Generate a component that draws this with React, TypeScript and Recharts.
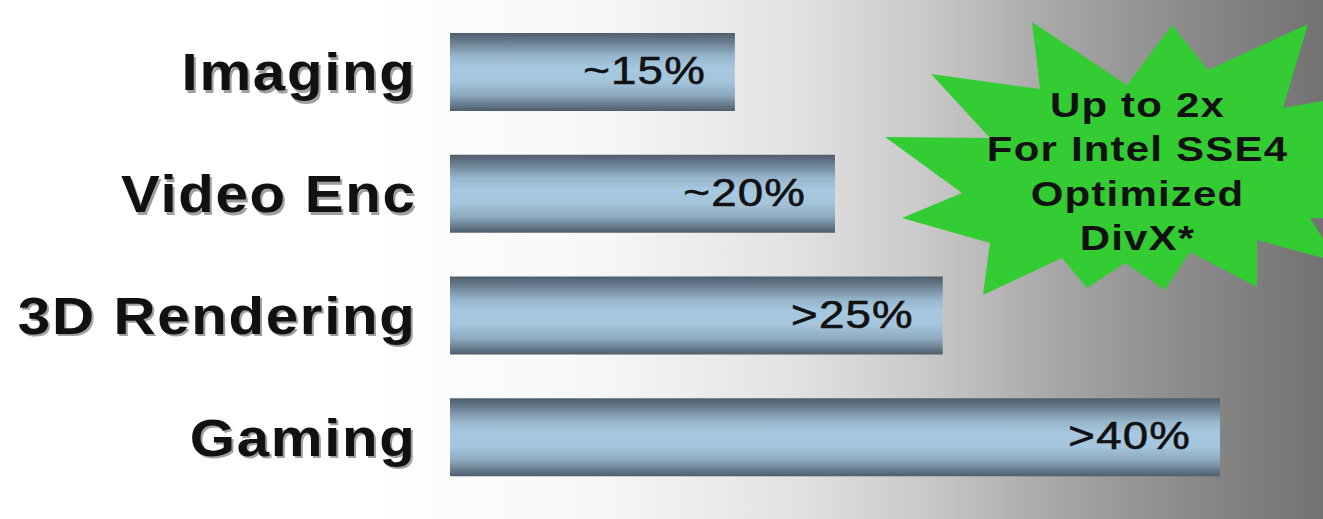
import React from 'react';
import { BarChart, Bar, XAxis, YAxis, LabelList } from 'recharts';

const categories = ['Imaging', 'Video Enc', '3D Rendering', 'Gaming'];
const speedups = [14.8, 20, 25.6, 40];
const valueLabels = ['~15%', '~20%', '>25%', '>40%'];
const calloutLines = ['Up to 2x', 'For Intel SSE4', 'Optimized', 'DivX*'];

const data = categories.map((c, i) => ({ name: c, value: speedups[i], label: valueLabels[i] }));

const FONT = '"Liberation Sans", Arial, Helvetica, sans-serif';

const CategoryTick = (props: any) => {
  const { x, y, payload } = props;
  const common = {
    textAnchor: 'end' as const,
    fontFamily: FONT,
    fontWeight: 'bold' as const,
    fontSize: 52,
    letterSpacing: 1.5,
  };
  return (
    <g>
      <text transform={`translate(${x + 3.5},${y + 21}) scale(1.12,1)`} {...common} fill="#a0a0a0">
        {payload.value}
      </text>
      <text transform={`translate(${x + 1.5},${y + 18.5}) scale(1.12,1)`} {...common} fill="#111111">
        {payload.value}
      </text>
    </g>
  );
};

const ValueLabel = (props: any) => {
  const { x, y, width, height, index } = props;
  return (
    <text
      transform={`translate(${x + width - 29},${y + height / 2 + 12}) scale(1.2,1)`}
      textAnchor="end"
      fontFamily={FONT}
      fontSize={38}
      letterSpacing={1}
      fill="#111111"
      stroke="#111111"
      strokeWidth={0.6}
    >
      {valueLabels[index]}
    </text>
  );
};

const starPoints = [
  [931, 74], [1040, 89], [1032, 22], [1127, 85], [1172, 25], [1208, 70], [1308, 24], [1283, 108],
  [1340, 98], [1340, 218], [1310, 218], [1338, 262], [1257, 240], [1257, 287], [1190, 252], [1165, 290],
  [1125, 263], [1087, 288], [1062, 258], [983, 295], [990, 243], [902, 218], [962, 193], [885, 137], [990, 138],
];

export default function App() {
  return (
    <div
      style={{
        position: 'absolute',
        left: 0,
        top: 0,
        width: 1323,
        height: 519,
        overflow: 'hidden',
        background:
          'linear-gradient(to right, #ffffff 0%, #ffffff 28%, #f7f7f7 45%, #e2e2e2 60%, #c9c9c9 70%, #a6a6a6 80%, #8a8a8a 90%, #727272 100%)',
      }}
    >
      <BarChart
        width={1323}
        height={519}
        data={data}
        layout="vertical"
        margin={{ top: 11, right: 103, bottom: 21, left: 0 }}
      >
        <defs>
          <linearGradient id="barGrad" x1="0" y1="0" x2="0" y2="1">
            <stop offset="0%" stopColor="#4e5d6b" />
            <stop offset="12%" stopColor="#6a7f90" />
            <stop offset="30%" stopColor="#97b6cc" />
            <stop offset="45%" stopColor="#a6c8e0" />
            <stop offset="62%" stopColor="#a4c5dc" />
            <stop offset="80%" stopColor="#8ca9be" />
            <stop offset="100%" stopColor="#4e5d6b" />
          </linearGradient>
        </defs>
        <XAxis type="number" domain={[0, 40]} hide />
        <YAxis
          type="category"
          dataKey="name"
          width={450}
          axisLine={false}
          tickLine={false}
          tickSize={0}
          tickMargin={35}
          tick={<CategoryTick />}
          interval={0}
        />
        <Bar dataKey="value" fill="url(#barGrad)" barSize={78} isAnimationActive={false}>
          <LabelList dataKey="label" content={<ValueLabel />} />
        </Bar>
      </BarChart>
      <svg width={1323} height={519} style={{ position: 'absolute', left: 0, top: 0, pointerEvents: 'none' }}>
        <polygon points={starPoints.map((p) => p.join(',')).join(' ')} fill="#33cc33" />
        {calloutLines.map((line, i) => (
          <text
            key={line}
            transform={`translate(1137.5,${117 + i * 44.3}) scale(1.2,1)`}
            textAnchor="middle"
            fontFamily={FONT}
            fontWeight="bold"
            fontSize={35}
            letterSpacing={1}
            fill="#111111"
          >
            {line}
          </text>
        ))}
      </svg>
    </div>
  );
}
